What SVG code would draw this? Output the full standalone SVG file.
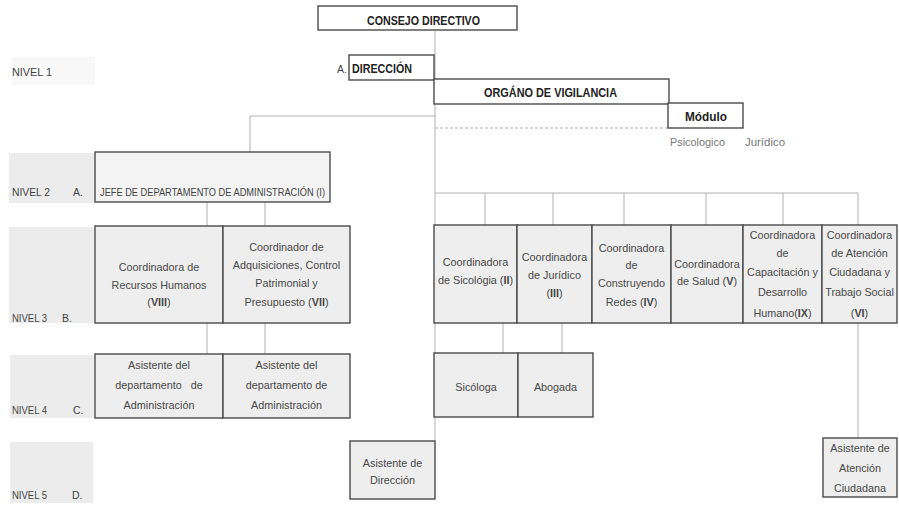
<svg xmlns="http://www.w3.org/2000/svg" width="899" height="508" viewBox="0 0 899 508">
<style>
.bg{fill:#ffffff}
.patch{fill:#ececec}
.top{fill:#ffffff;stroke:#4a4a4a;stroke-width:1.4}
.box{fill:#eeeeee;stroke:#4a4a4a;stroke-width:1.4}
.jefe{fill:#f3f3f3;stroke:#4a4a4a;stroke-width:1.4}
.con{fill:none;stroke:#b0b0b0;stroke-width:1}
.dash{fill:none;stroke:#b0b0b0;stroke-width:1;stroke-dasharray:3 2}
.tb{font-family:"Liberation Sans",Arial,sans-serif;font-size:12px;font-weight:bold;fill:#222}
.t{font-family:"Liberation Sans",Arial,sans-serif;font-size:10.8px;fill:#484848;text-anchor:middle}
.lab{font-family:"Liberation Sans",Arial,sans-serif;font-size:10.5px;fill:#444}
.sub{font-family:"Liberation Sans",Arial,sans-serif;font-size:11px;fill:#777}
.b{font-weight:bold}
</style>
<rect class="bg" x="0" y="0" width="899" height="508"/>
<g id="level-patches">
<rect x="12" y="57" width="83" height="28" fill="#f8f8f8"/>
<rect class="patch" x="9" y="153" width="86" height="50"/>
<rect class="patch" x="9" y="227" width="85" height="96"/>
<rect class="patch" x="10" y="355" width="84" height="63"/>
<rect class="patch" x="10" y="442" width="83" height="61"/>
</g>
<g id="level-labels">
<text class="lab" x="12" y="76" textLength="40" lengthAdjust="spacingAndGlyphs">NIVEL 1</text>
<text class="lab" x="12" y="196" textLength="38" lengthAdjust="spacingAndGlyphs">NIVEL 2</text>
<text class="lab" x="73" y="196">A.</text>
<text class="lab" x="12" y="322" textLength="35" lengthAdjust="spacingAndGlyphs">NIVEL 3</text>
<text class="lab" x="62" y="322">B.</text>
<text class="lab" x="12" y="414" textLength="35" lengthAdjust="spacingAndGlyphs">NIVEL 4</text>
<text class="lab" x="73" y="414">C.</text>
<text class="lab" x="12" y="499" textLength="35" lengthAdjust="spacingAndGlyphs">NIVEL 5</text>
<text class="lab" x="72" y="499">D.</text>
</g>
<g id="connectors">
<path class="con" d="M435 30 V441"/>
<path class="con" d="M250 116 H435 M250 116 V152"/>
<path class="dash" d="M435 128 H668"/>
<path class="con" d="M435 193 H858 M485 193 V225 M553 193 V225 M624 193 V225 M706 193 V225 M783 193 V225 M858 193 V225"/>
<path class="con" d="M207 202 V226 M265 202 V226"/>
<path class="con" d="M207 323 V354 M265 323 V354"/>
<path class="con" d="M503 323 V353 M562 323 V353"/>
<path class="con" d="M858 323 V438"/>
</g>
<g id="consejo">
<rect class="top" x="318" y="6" width="199" height="24"/>
<text class="tb" x="367" y="25" textLength="113" lengthAdjust="spacingAndGlyphs">CONSEJO DIRECTIVO</text>
</g>
<g id="direccion">
<text class="lab" x="337" y="73" fill="#333">A.</text>
<rect class="top" x="349" y="55" width="85" height="25"/>
<text class="tb" x="352" y="73" textLength="60" lengthAdjust="spacingAndGlyphs">DIRECCIÓN</text>
</g>
<g id="organo">
<rect class="top" x="434" y="79" width="235" height="25"/>
<text class="tb" x="484" y="97" textLength="133" lengthAdjust="spacingAndGlyphs">ORGÁNO DE VIGILANCIA</text>
</g>
<g id="modulo">
<rect class="top" x="668" y="103" width="75" height="25"/>
<text class="tb" x="685" y="121" textLength="42" lengthAdjust="spacingAndGlyphs">Módulo</text>
<text class="sub" x="670" y="146" textLength="55" lengthAdjust="spacingAndGlyphs">Psicologico</text>
<text class="sub" x="745" y="146" textLength="40" lengthAdjust="spacingAndGlyphs">Jurídico</text>
</g>
<g id="jefe">
<rect class="jefe" x="95" y="152" width="235" height="50"/>
<text class="lab" x="100" y="196" font-size="9" textLength="225" lengthAdjust="spacingAndGlyphs">JEFE DE DEPARTAMENTO DE ADMINISTRACIÓN (I)</text>
</g>
<g id="coord-rh">
<rect class="box" x="95" y="226" width="128" height="97"/>
<text class="t" x="159" y="271">Coordinadora de</text>
<text class="t" x="159" y="289">Recursos Humanos</text>
<text class="t" x="159" y="306">(<tspan class="b">VIII</tspan>)</text>
</g>
<g id="coord-adq">
<rect class="box" x="223" y="226" width="127" height="97"/>
<text class="t" x="286.5" y="251">Coordinador de</text>
<text class="t" x="286.5" y="269">Adquisiciones, Control</text>
<text class="t" x="286.5" y="287">Patrimonial y</text>
<text class="t" x="286.5" y="306">Presupuesto (<tspan class="b">VII</tspan>)</text>
</g>
<g id="coord-sicologia">
<rect class="box" x="434" y="225" width="83" height="98"/>
<text class="t" x="475.5" y="266">Coordinadora</text>
<text class="t" x="475.5" y="284">de Sicológia (<tspan class="b">II</tspan>)</text>
</g>
<g id="coord-juridico">
<rect class="box" x="517" y="225" width="75" height="98"/>
<text class="t" x="554.5" y="261">Coordinadora</text>
<text class="t" x="554.5" y="279">de Jurídico</text>
<text class="t" x="554.5" y="297">(<tspan class="b">III</tspan>)</text>
</g>
<g id="coord-redes">
<rect class="box" x="592" y="225" width="79" height="98"/>
<text class="t" x="631.5" y="252">Coordinadora</text>
<text class="t" x="631.5" y="269">de</text>
<text class="t" x="631.5" y="287">Construyendo</text>
<text class="t" x="631.5" y="306">Redes (<tspan class="b">IV</tspan>)</text>
</g>
<g id="coord-salud">
<rect class="box" x="671" y="225" width="72" height="98"/>
<text class="t" x="707" y="268">Coordinadora</text>
<text class="t" x="707" y="285">de Salud (<tspan class="b">V</tspan>)</text>
</g>
<g id="coord-capacitacion">
<rect class="box" x="743" y="225" width="79" height="98"/>
<text class="t" x="782.5" y="239">Coordinadora</text>
<text class="t" x="782.5" y="257">de</text>
<text class="t" x="782.5" y="276">Capacitación y</text>
<text class="t" x="782.5" y="296">Desarrollo</text>
<text class="t" x="782.5" y="317">Humano(<tspan class="b">IX</tspan>)</text>
</g>
<g id="coord-atencion">
<rect class="box" x="822" y="225" width="75" height="98"/>
<text class="t" x="859.5" y="239">Coordinadora</text>
<text class="t" x="859.5" y="257">de Atención</text>
<text class="t" x="859.5" y="276">Ciudadana y</text>
<text class="t" x="859.5" y="296">Trabajo Social</text>
<text class="t" x="859.5" y="317">(<tspan class="b">VI</tspan>)</text>
</g>
<g id="asist-admin-1">
<rect class="box" x="95" y="354" width="128" height="64"/>
<text class="t" x="159" y="369">Asistente del</text>
<text class="t" x="159" y="389" xml:space="preserve">departamento   de</text>
<text class="t" x="159" y="409">Administración</text>
</g>
<g id="asist-admin-2">
<rect class="box" x="223" y="354" width="127" height="64"/>
<text class="t" x="286.5" y="369">Asistente del</text>
<text class="t" x="286.5" y="389">departamento de</text>
<text class="t" x="286.5" y="409">Administración</text>
</g>
<g id="sicologa">
<rect class="box" x="434" y="353" width="84" height="64"/>
<text class="t" x="476" y="391">Sicóloga</text>
</g>
<g id="abogada">
<rect class="box" x="518" y="353" width="75" height="64"/>
<text class="t" x="555.5" y="391">Abogada</text>
</g>
<g id="asist-direccion">
<rect class="box" x="350" y="441" width="85" height="58"/>
<text class="t" x="392.5" y="467">Asistente de</text>
<text class="t" x="392.5" y="484">Dirección</text>
</g>
<g id="asist-atencion">
<rect class="box" x="823" y="438" width="74" height="59"/>
<text class="t" x="860" y="452">Asistente de</text>
<text class="t" x="860" y="472">Atención</text>
<text class="t" x="860" y="492">Ciudadana</text>
</g>
</svg>
